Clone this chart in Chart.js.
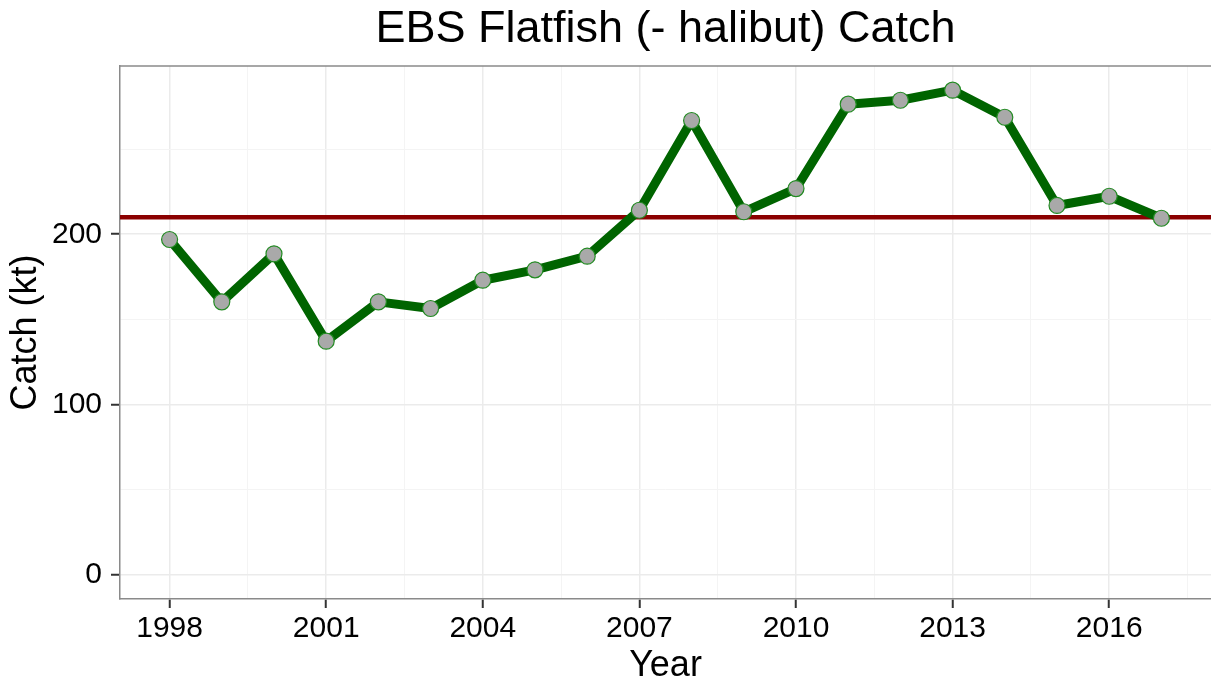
<!DOCTYPE html>
<html>
<head>
<meta charset="utf-8">
<title>EBS Flatfish Catch</title>
<script src="https://cdn.jsdelivr.net/npm/chart.js@4.4.1/dist/chart.umd.min.js"></script>
<style>
    html, body { margin: 0; padding: 0; background: #fff; }
    #wrap { width: 1211px; height: 688px; }
</style>
</head>
<body>
<div id="wrap"><canvas id="catchChart" width="1211" height="688"></canvas></div>
<script>
// data
const years = [1998, 1999, 2000, 2001, 2002, 2003, 2004, 2005, 2006, 2007,
               2008, 2009, 2010, 2011, 2012, 2013, 2014, 2015, 2016, 2017];
const catchKt = [196.9, 160.3, 188.5, 137.2, 160.3, 156.4, 173.0, 179.1, 187.1, 214.1,
                 266.8, 213.2, 226.8, 276.4, 278.7, 284.6, 268.7, 216.9, 222.3, 209.4];
const refCatch = 210;

// axis breaks (major + minor, like ggplot)
const xBreaks = [1998, 1999.5, 2001, 2002.5, 2004, 2005.5, 2007, 2008.5, 2010, 2011.5,
                 2013, 2014.5, 2016, 2017.5];
const xLabelled = [1998, 2001, 2004, 2007, 2010, 2013, 2016];
const yBreaks = [0, 50, 100, 150, 200, 250];
const yLabelled = [0, 100, 200];

// axis limits with ggplot's 5% expansion
const xMin = 1997.05, xMax = 2017.95;
const yMin = -14.2, yMax = 298.8;

const font = "'Liberation Sans', Arial, sans-serif";

// top border of the panel (theme_bw box)
const panelBox = {
    id: 'panelBox',
    afterDraw(chart) {
        const {ctx, chartArea} = chart;
        ctx.save();
        ctx.strokeStyle = '#8a8a8a';
        ctx.lineWidth = 1.5;
        ctx.beginPath();
        ctx.moveTo(chartArea.left, chartArea.top);
        ctx.lineTo(chartArea.right, chartArea.top);
        ctx.stroke();
        ctx.restore();
    }
};

const isMajorX = v => xLabelled.includes(v);
const isMajorY = v => yLabelled.includes(v);

const config = {
    type: 'line',
    data: {
        datasets: [
            {
                label: 'Catch',
                data: years.map((y, i) => ({x: y, y: catchKt[i]})),
                borderColor: '#006400',
                borderWidth: 9,
                borderJoinStyle: 'round',
                pointRadius: 8,
                pointBackgroundColor: '#a9a9a9',
                pointBorderColor: '#228b22',
                pointBorderWidth: 1.2,
                tension: 0,
                order: 1
            },
            {
                label: 'Reference',
                data: [{x: xMin, y: refCatch}, {x: xMax, y: refCatch}],
                borderColor: '#8b0000',
                borderWidth: 4.5,
                pointRadius: 0,
                order: 2
            }
        ]
    },
    options: {
        responsive: false,
        animation: false,
        devicePixelRatio: 1,
        layout: { padding: 0, autoPadding: false },
        plugins: {
            legend: { display: false },
            tooltip: { enabled: false },
            title: {
                display: true,
                text: 'EBS Flatfish (- halibut) Catch',
                fullSize: false,
                color: '#000',
                font: { family: font, size: 45, weight: 'normal' },
                padding: { top: 3, bottom: 9 }
            }
        },
        scales: {
            x: {
                type: 'linear',
                min: xMin,
                max: xMax,
                afterBuildTicks: scale => { scale.ticks = xBreaks.map(v => ({value: v})); },
                afterFit: scale => { scale.height = 89; },
                ticks: {
                    autoSkip: false,
                    maxRotation: 0,
                    padding: 3,
                    color: '#000',
                    font: { family: font, size: 30 },
                    callback: v => isMajorX(v) ? String(v) : ''
                },
                grid: {
                    color: ctx => isMajorX(ctx.tick.value) ? '#ebebeb' : '#f4f4f4',
                    lineWidth: ctx => isMajorX(ctx.tick.value) ? 1.5 : 1,
                    tickColor: ctx => isMajorX(ctx.tick.value) ? '#333' : 'rgba(0,0,0,0)',
                    tickLength: 9,
                    tickWidth: 2
                },
                border: { display: true, color: '#8a8a8a', width: 1.5 },
                title: {
                    display: true,
                    text: 'Year',
                    color: '#000',
                    font: { family: font, size: 36 },
                    padding: 0
                }
            },
            y: {
                min: yMin,
                max: yMax,
                afterBuildTicks: scale => { scale.ticks = yBreaks.map(v => ({value: v})); },
                afterFit: scale => { scale.width = 120; },
                ticks: {
                    padding: 9,
                    color: '#000',
                    font: { family: font, size: 30 },
                    callback: v => isMajorY(v) ? String(v) : ''
                },
                grid: {
                    color: ctx => isMajorY(ctx.tick.value) ? '#ebebeb' : '#f4f4f4',
                    lineWidth: ctx => isMajorY(ctx.tick.value) ? 1.5 : 1,
                    tickColor: ctx => isMajorY(ctx.tick.value) ? '#333' : 'rgba(0,0,0,0)',
                    tickLength: 9,
                    tickWidth: 2
                },
                border: { display: true, color: '#8a8a8a', width: 1.5 },
                title: {
                    display: true,
                    text: 'Catch (kt)',
                    color: '#000',
                    font: { family: font, size: 36 },
                    padding: { top: 4, bottom: 0 }
                }
            }
        }
    },
    plugins: [panelBox]
};

const catchChart = new Chart(document.getElementById('catchChart'), config);
</script>
</body>
</html>
